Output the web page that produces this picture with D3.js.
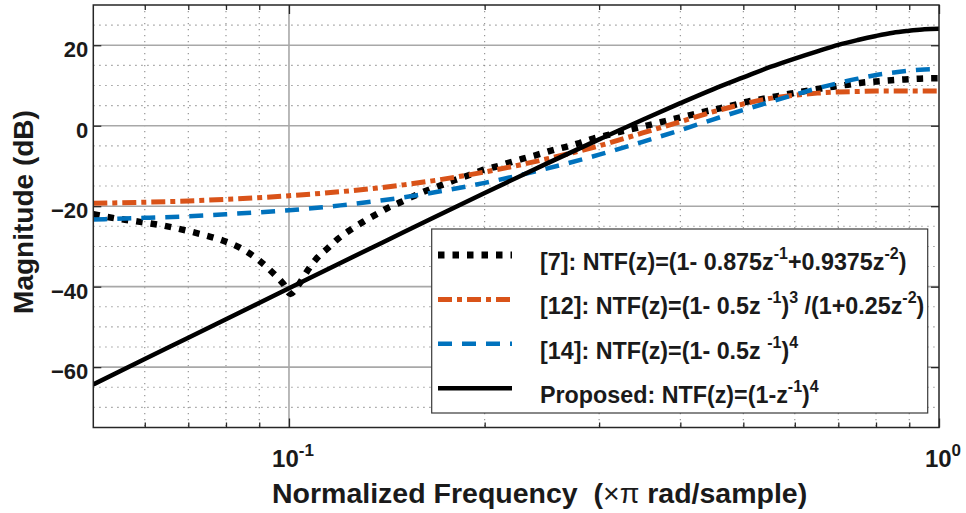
<!DOCTYPE html>
<html>
<head>
<meta charset="utf-8">
<script src="https://cdn.jsdelivr.net/npm/d3@7"></script>
<style>
  html, body { margin: 0; padding: 0; background: #fff; }
  svg { display: block; font-family: "Liberation Sans", Arial, Helvetica, sans-serif; }
  text { white-space: pre; }
</style>
</head>
<body>
<svg id="chart" width="966" height="513"></svg>
<script>
// ---------------- data ----------------
const freqGrid = [0.05, 0.06, 0.07, 0.08, 0.1, 0.12, 0.15, 0.2, 0.25, 0.3, 0.35, 0.4, 0.45, 0.5,
                  0.55, 0.6, 0.65, 0.7, 0.75, 0.8, 0.85, 0.9, 0.95, 1.0];
const magProposed = [-64.3, -58.0, -52.7, -48.1, -40.4, -34.1, -26.5, -16.7, -9.3, -3.4, 1.5, 5.6, 9.1, 12.0,
                     14.6, 16.7, 18.5, 20.1, 21.3, 22.3, 23.1, 23.6, 24.0, 24.1];
const mag14 = [-23.3, -22.9, -22.5, -22.0, -21.0, -19.8, -17.8, -14.2, -10.6, -7.2, -4.0, -1.1, 1.6, 3.9,
               5.9, 7.7, 9.3, 10.6, 11.7, 12.6, 13.2, 13.7, 14.0, 14.1];
const mag12 = [-19.3, -19.0, -18.7, -18.3, -17.4, -16.4, -14.7, -11.5, -8.2, -5.0, -1.8, 1.0, 3.5, 5.4,
               6.8, 7.6, 8.1, 8.4, 8.5, 8.6, 8.6, 8.6, 8.6, 8.6];
const freq7 = [0.05, 0.054, 0.059, 0.064, 0.068, 0.073, 0.079, 0.084, 0.090, 0.0945, 0.098, 0.1005,
               0.1035, 0.107, 0.110, 0.115, 0.119, 0.124, 0.130, 0.136, 0.142, 0.149, 0.156, 0.163,
               0.172, 0.180, 0.189, 0.198, 0.209, 0.219, 0.229, 0.240, 0.253, 0.266, 0.280, 0.294,
               0.310, 0.325, 0.342, 0.359, 0.376, 0.394, 0.416, 0.436, 0.460, 0.485, 0.508, 0.533,
               0.562, 0.593, 0.622, 0.655, 0.687, 0.724, 0.760, 0.801, 0.845, 0.886, 0.934, 1.0];
const mag7 = [-22.0, -23.0, -23.9, -24.8, -25.7, -26.9, -28.5, -30.3, -33.5, -36.6, -39.3, -41.8,
              -39.5, -35.8, -33.2, -30.3, -28.1, -26.0, -23.9, -22.1, -20.4, -18.9, -17.4, -16.1,
              -14.7, -13.5, -12.3, -11.1, -10.1, -9.1, -8.2, -7.3, -6.2, -5.3, -4.3, -3.2,
              -2.3, -1.4, -0.6, 0.2, 1.0, 1.8, 2.7, 3.5, 4.3, 5.2, 6.0, 6.6,
              7.3, 8.0, 8.6, 9.2, 9.7, 10.2, 10.7, 11.0, 11.3, 11.5, 11.7, 11.8];

const yMajorTicks = [-60, -40, -20, 0, 20];
const yMinorTicks = [-70, -65, -55, -50, -45, -35, -30, -25, -15, -10, -5, 5, 10, 15, 25];
const xMajorTicks = [0.1, 1];
const xMajorLabels = [["10", "-1"], ["10", "0"]];
const xMinorTicks = [0.06, 0.07, 0.08, 0.09, 0.2, 0.3, 0.4, 0.5, 0.6, 0.7, 0.8, 0.9];

const seriesNames = ["[7]", "[12]", "[14]", "Proposed"];
const legendLabels = [
  [["[7]: NTF(z)=(1- 0.875z", 0], ["-1", 1], ["+0.9375z", 0], ["-2", 1], [")", 0]],
  [["[12]: NTF(z)=(1- 0.5z ", 0], ["-1", 1], [")", 0], ["3", 1], [" /(1+0.25z", 0], ["-2", 1], [")", 0]],
  [["[14]: NTF(z)=(1- 0.5z ", 0], ["-1", 1], [")", 0], ["4", 1]],
  [["Proposed: NTF(z)=(1-z", 0], ["-1", 1], [")", 0], ["4", 1]]
];
const xLabel = [["Normalized Frequency  (", "bold"], ["×π", "normal"], [" rad/sample)", "bold"]];
const yLabel = "Magnitude (dB)";

// ---------------- layout ----------------
const L = 93.3, R = 939, T = 5, B = 427.5;
const svg = d3.select("#chart");
const x = d3.scaleLog().domain([0.05, 1]).range([L, R]);
const y = d3.scaleLinear().domain([-75, 30]).range([B, T]);
const textColor = "#1a1a1a";

// grid: minor dotted
const grid = svg.append("g");
grid.selectAll(".ymin").data(yMinorTicks).join("line")
  .attr("x1", L).attr("x2", R).attr("y1", d => y(d)).attr("y2", d => y(d))
  .attr("stroke", "#8c8c8c").attr("stroke-width", 1.1).attr("stroke-dasharray", "1.3,4.7");
grid.selectAll(".xmin").data(xMinorTicks).join("line")
  .attr("y1", T).attr("y2", B).attr("x1", d => x(d)).attr("x2", d => x(d))
  .attr("stroke", "#8c8c8c").attr("stroke-width", 1.1).attr("stroke-dasharray", "1.3,4.7");
// grid: major solid
grid.selectAll(".ymaj").data(yMajorTicks).join("line")
  .attr("x1", L).attr("x2", R).attr("y1", d => y(d)).attr("y2", d => y(d))
  .attr("stroke", "#a8a8a8").attr("stroke-width", 1.6);
grid.selectAll(".xmaj").data([0.1]).join("line")
  .attr("y1", T).attr("y2", B).attr("x1", d => x(d)).attr("x2", d => x(d))
  .attr("stroke", "#a8a8a8").attr("stroke-width", 1.6);

// clip
svg.append("clipPath").attr("id", "clip").append("rect")
  .attr("x", L).attr("y", T).attr("width", R - L).attr("height", B - T);

const line = d3.line().x(d => x(d[0])).y(d => y(d[1])).curve(d3.curveMonotoneX);
const styles = [
  { color: "#000000", width: 6.5, dash: "6.5,8" },
  { color: "#D95319", width: 5, dash: "14,5,5,5" },
  { color: "#0072BD", width: 4.5, dash: "14,10" },
  { color: "#000000", width: 4.5, dash: null }
];
const seriesData = [
  d3.zip(freq7, mag7),
  d3.zip(freqGrid, mag12),
  d3.zip(freqGrid, mag14),
  d3.zip(freqGrid, magProposed)
];
const plot = svg.append("g").attr("clip-path", "url(#clip)");
seriesData.forEach((data, i) => {
  const s = styles[i];
  plot.append("path").datum(data)
    .attr("d", line).attr("fill", "none")
    .attr("stroke", s.color).attr("stroke-width", s.width)
    .attr("stroke-dasharray", s.dash)
    .attr("stroke-linejoin", "round");
});

// axes (inward ticks, MATLAB style)
const axisColor = "#262626";
const yAxisL = svg.append("g").attr("transform", `translate(${L},0)`)
  .call(d3.axisLeft(y).tickValues(yMajorTicks).tickSize(-8).tickPadding(5).tickFormat(d3.format("d")));
const yAxisR = svg.append("g").attr("transform", `translate(${R},0)`)
  .call(d3.axisRight(y).tickValues(yMajorTicks).tickSize(-8).tickFormat(""));
const xAxisB = svg.append("g").attr("transform", `translate(0,${B})`)
  .call(d3.axisBottom(x).tickValues(xMajorTicks).tickSize(-9).tickFormat(""));
const xAxisBm = svg.append("g").attr("transform", `translate(0,${B})`)
  .call(d3.axisBottom(x).tickValues(xMinorTicks).tickSize(-5).tickFormat(""));
const xAxisT = svg.append("g").attr("transform", `translate(0,${T})`)
  .call(d3.axisTop(x).tickValues(xMajorTicks).tickSize(-9).tickFormat(""));
const xAxisTm = svg.append("g").attr("transform", `translate(0,${T})`)
  .call(d3.axisTop(x).tickValues(xMinorTicks).tickSize(-5).tickFormat(""));
[yAxisL, yAxisR, xAxisB, xAxisBm, xAxisT, xAxisTm].forEach(g => {
  g.select(".domain").remove();
  g.selectAll(".tick line").attr("stroke", axisColor).attr("stroke-width", 1.3);
});
yAxisL.selectAll(".tick text")
  .attr("font-size", 22).attr("font-weight", "bold").attr("fill", textColor)
  .attr("dy", "0.52em");

// box
svg.append("rect").attr("x", L).attr("y", T).attr("width", R - L).attr("height", B - T)
  .attr("fill", "none").attr("stroke", axisColor).attr("stroke-width", 1.5);

// x tick labels (10^-1, 10^0)
xMajorTicks.forEach((v, i) => {
  const t = svg.append("text").attr("x", x(v) + 4).attr("y", 467)
    .attr("text-anchor", "middle").attr("font-weight", "bold").attr("fill", textColor)
    .attr("font-size", 24);
  t.append("tspan").text(xMajorLabels[i][0]);
  t.append("tspan").attr("font-size", 17).attr("dy", -11).text(xMajorLabels[i][1]);
});

// axis titles
const xl = svg.append("text").attr("x", 272).attr("y", 503).attr("font-size", 28.5)
  .attr("fill", textColor);
xLabel.forEach(p => xl.append("tspan").attr("font-weight", p[1]).text(p[0]));
svg.append("text").attr("transform", "translate(33,212) rotate(-90)")
  .attr("text-anchor", "middle").attr("font-size", 28).attr("font-weight", "bold")
  .attr("fill", textColor).text(yLabel);

// legend
const lg = svg.append("g");
lg.append("rect").attr("x", 431.7).attr("y", 229).attr("width", 496).attr("height", 184)
  .attr("fill", "#fff").attr("stroke", "#3a3a3a").attr("stroke-width", 1.2);
const rowY = d3.scalePoint().domain(seriesNames).range([255, 388.3]);
seriesNames.forEach((name, i) => {
  const s = styles[i];
  const yy = rowY(name);
  lg.append("line").attr("x1", 438).attr("x2", 512).attr("y1", yy).attr("y2", yy)
    .attr("stroke", s.color).attr("stroke-width", i === 0 ? 7 : s.width)
    .attr("stroke-dasharray", s.dash);
  const t = lg.append("text").attr("x", 540).attr("y", yy + 15)
    .attr("font-size", 23.3).attr("font-weight", "bold").attr("fill", textColor);
  let up = false;
  legendLabels[i].forEach(seg => {
    const ts = t.append("tspan").text(seg[0]);
    if (seg[1] && !up) { ts.attr("font-size", 16).attr("dy", -11); up = true; }
    else if (seg[1] && up) { ts.attr("font-size", 16); }
    else if (!seg[1] && up) { ts.attr("dy", 11); up = false; }
  });
});
</script>
</body>
</html>
